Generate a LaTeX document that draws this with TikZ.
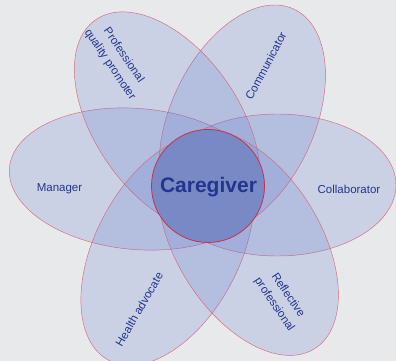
\documentclass[tikz,border=0pt]{standalone}
\usepackage{fontspec}
\setmainfont{Liberation Sans}
\usepackage{tikz}

\definecolor{bggray}{RGB}{232,233,235}
\definecolor{petalblue}{RGB}{100,125,205}
\definecolor{petaledge}{RGB}{214,104,124}
\definecolor{corefill}{RGB}{120,137,198}
\definecolor{coreedge}{RGB}{200,48,72}
\definecolor{labelblue}{RGB}{36,54,140}

\begin{document}
\begin{tikzpicture}[x=1pt,y=1pt,
	petal/.style={fill=petalblue, fill opacity=0.22, draw=petaledge, line width=0.45pt},
	core/.style={fill=corefill, draw=coreedge, line width=0.8pt},
	role/.style={text=labelblue, font=\fontsize{11.5}{13.5}\selectfont, align=center, inner sep=0pt}]

	% background
	\fill[bggray] (-207,-175) rectangle (189,186);
	\useasboundingbox (-207,-175) rectangle (189,186);

	% the six petals
	\draw[petal] (-70,7) circle[x radius=128, y radius=70.5, rotate=-5];
	\draw[petal] (70,1) circle[x radius=119, y radius=71];
	\draw[petal] (35.3,66.3) circle[x radius=122, y radius=72, rotate=65];
	\draw[petal] (-39.8,63.7) circle[x radius=125, y radius=72, rotate=125];
	\draw[petal] (-39.6,-63.9) circle[x radius=125, y radius=72, rotate=242];
	\draw[petal] (41.3,-56.7) circle[x radius=125, y radius=72, rotate=-58];

	% centre
	\draw[core] (1,0) circle[radius=56.5];
	\node[text=labelblue, font=\fontsize{21}{24}\selectfont\bfseries] (caregiver) at (1.5,-1) {Caregiver};

	\node[role] (manager) at (-147.5,-3) {Manager};
	\node[role] (collaborator) at (142,-3) {Collaborator};
	\node[role, rotate=62] (communicator) at (58.8,120.2) {Communicator};
	\node[role, rotate=-56] (promoter) at (-90.3,126) {Professional\\[3pt]quality promoter};
	\node[role, rotate=60] (advocate) at (-67.8,-123.2) {Health advocate};
	\node[role, rotate=-56] (reflective) at (74,-114) {Reflective\\[3pt]professional};
\end{tikzpicture}
\end{document}
